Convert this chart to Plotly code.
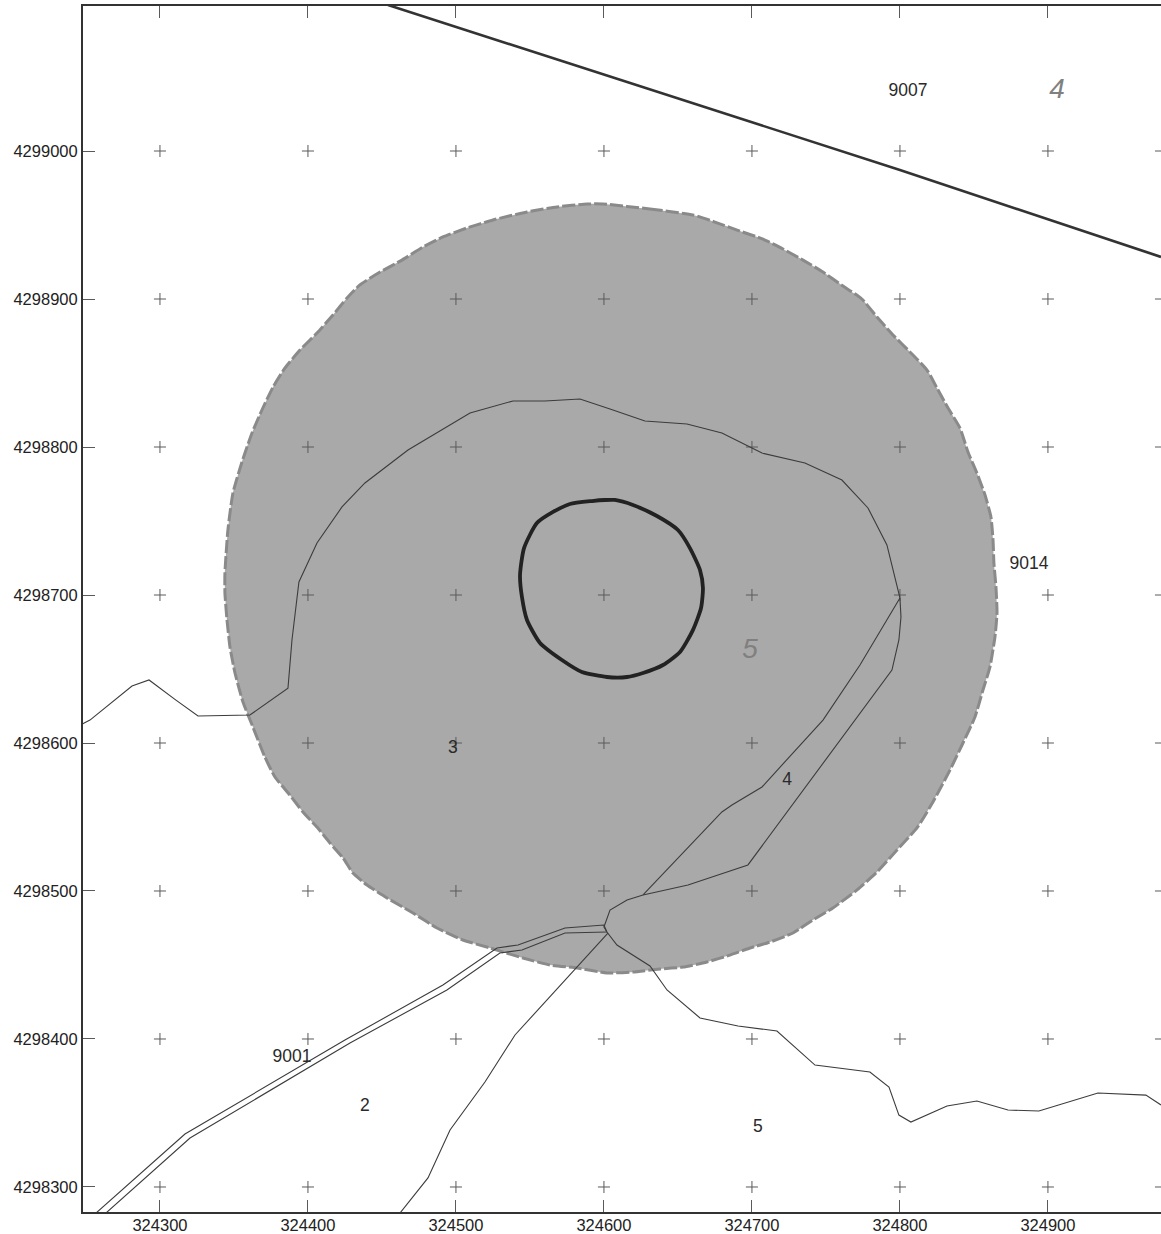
import plotly.graph_objects as go

# All map coordinates are metres, stored relative to these origins
EAST0 = 324000
NORTH0 = 4298000

x_ticks = [324300, 324400, 324500, 324600, 324700, 324800, 324900]
y_ticks = [4298300, 4298400, 4298500, 4298600, 4298700, 4298800, 4298900, 4299000]

disc_x = [599.3, 631.1, 660.1, 675.0, 691.9, 707.4, 721.0, 734.5, 748.0, 761.5, 774.3, 784.5, 795.3, 806.8, 818.3,
          825.0, 832.5, 840.6, 846.0, 852.0, 857.5, 861.5, 862.9, 863.5, 864.9, 865.6, 864.2, 860.8, 856.1, 850.7,
          842.6, 833.8, 822.3, 811.5, 798.0, 784.5, 771.0, 754.7, 741.2, 727.7, 712.2, 698.7, 685.1, 669.6, 653.4,
          637.9, 619.6, 602.0, 581.8, 563.5, 545.3, 523.0, 504.7, 487.2, 471.0, 453.4, 439.9, 430.4, 423.7, 414.9,
          406.1, 396.6, 387.8, 377.7, 370.9, 362.8, 356.1, 350.7, 347.3, 345.3, 343.9, 343.9, 345.9, 349.3, 355.4,
          362.2, 368.9, 376.4, 384.5, 394.6, 406.1, 416.9, 426.4, 435.1, 448.7, 463.5, 477.7, 491.2, 507.4, 525.0,
          548.0, 568.3, 588.5, 599.3]
disc_y = [964.2, 960.8, 956.8, 952.0, 945.9, 940.5, 933.8, 926.3, 918.2, 908.8, 900.0, 887.8, 875.7, 864.2, 852.0,
          839.9, 826.3, 812.8, 796.6, 782.4, 767.6, 752.7, 737.2, 721.6, 705.4, 687.8, 671.6, 651.3, 635.8, 617.6,
          600.0, 581.7, 560.1, 542.6, 527.7, 512.8, 500.7, 488.5, 480.4, 471.6, 465.5, 461.5, 456.7, 452.0, 448.6,
          447.3, 445.3, 444.6, 448.0, 450.0, 454.7, 461.5, 466.9, 475.0, 485.1, 495.3, 504.0, 512.1, 522.3, 532.4,
          543.2, 553.4, 564.8, 577.0, 590.5, 610.8, 627.7, 647.3, 664.9, 683.1, 701.3, 714.9, 743.9, 768.9, 789.9,
          809.5, 825.0, 840.5, 853.4, 865.5, 877.0, 889.2, 900.7, 909.5, 918.2, 926.3, 935.1, 941.9, 948.0, 953.4,
          958.8, 962.2, 964.2, 964.2]

ring_x = [600.7, 607.4, 619.6, 635.8, 650.0, 658.1, 664.9, 666.9, 665.6, 660.1, 651.4, 639.9, 626.4, 615.6, 602.0,
          585.1, 571.6, 556.8, 548.0, 544.6, 543.3, 546.0, 554.7, 565.6, 577.0, 591.9, 600.7]
ring_y = [764.2, 764.2, 760.8, 753.4, 743.9, 731.7, 716.9, 704.7, 691.2, 676.3, 661.5, 652.7, 647.3, 644.6, 644.6,
          648.0, 656.1, 667.6, 683.1, 698.6, 713.5, 731.7, 748.6, 756.1, 761.5, 763.5, 764.2]

stream_x = [247.3, 252.7, 281.1, 292.6, 310.8, 325.7, 360.8, 386.5, 389.2, 393.9, 406.1, 423.0, 438.5, 467.6, 509.5,
            538.5, 560.1, 583.8, 604.1, 627.7, 656.1, 679.7, 706.8, 735.8, 760.8, 778.4, 791.2, 800.0]
stream_y = [612.8, 615.5, 638.5, 642.6, 629.0, 618.2, 618.9, 637.1, 669.6, 708.8, 735.1, 759.5, 775.7, 798.0, 823.0,
            831.1, 831.1, 832.4, 825.7, 817.6, 815.5, 809.5, 795.9, 789.2, 777.7, 758.8, 733.8, 698.0]

inner_x = [800.0, 773.0, 748.0, 706.8, 686.5, 679.7, 626.4]
inner_y = [698.0, 652.7, 615.5, 570.3, 558.1, 553.4, 497.3]

outer_x = [800.0, 800.7, 799.3, 794.6, 697.3, 656.8, 626.4, 615.6, 604.1, 600.0, 602.0, 608.8, 631.1, 642.6, 664.9,
           690.6, 716.9, 742.6, 779.7, 792.6, 799.3, 807.4, 831.8, 852.0, 873.0, 893.9, 933.8, 966.2, 976.4]
outer_y = [698.0, 685.1, 669.6, 649.3, 517.6, 504.0, 497.3, 493.9, 487.1, 475.7, 472.3, 463.5, 449.3, 433.1, 414.2,
           408.8, 405.4, 382.4, 377.7, 367.5, 348.6, 343.9, 354.7, 358.1, 352.0, 351.3, 363.5, 362.1, 355.4]

road_upper_x = [256.8, 316.9, 425.0, 491.2, 527.7, 541.9, 573.7, 600.0, 602.0]
road_upper_y = [282.4, 335.8, 399.3, 436.5, 461.5, 463.5, 475.0, 477.0, 472.3]
road_lower_x = [263.5, 320.3, 428.4, 493.9, 529.7, 544.6, 573.7, 602.0]
road_lower_y = [282.4, 333.1, 397.3, 433.1, 458.1, 460.1, 471.6, 472.3]

south_x = [602.7, 561.5, 539.9, 519.6, 496.0, 481.1, 462.2]
south_y = [471.6, 426.3, 402.7, 370.9, 338.5, 306.1, 282.4]

border_x = [454.1, 800.0, 976.4]
border_y = [1098.65, 987.2, 928.4]

label_text = ["9007", "9014", "3", "4", "9001", "2", "5"]
label_x = [805.4, 887.2, 498.0, 723.7, 389.2, 438.5, 704.0]
label_y = [1040.4, 720.8, 596.5, 574.9, 387.7, 354.6, 340.4]
zone_text = ["4", "5"]
zone_x = [906.1, 698.7]
zone_y = [1040.6, 662.2]

X_RANGE = [324248.0, 324976.4]
Y_RANGE = [4298283.1, 4299097.98]


def ex(v):
    return [EAST0 + a for a in v]


def ny(v):
    return [NORTH0 + a for a in v]


fig = go.Figure()

# grey disc with a dashed rim
fig.add_trace(go.Scatter(x=ex(disc_x), y=ny(disc_y), mode="lines", fill="toself", fillcolor="#a9a9a9",
                         line=dict(color="#a9a9a9", width=0, shape="spline", smoothing=0.5)))
fig.add_trace(go.Scatter(x=ex(disc_x), y=ny(disc_y), mode="lines",
                         line=dict(color="#8a8a8a", width=3, dash="13px,3px", shape="spline", smoothing=0.5)))

# grid crosses
cross_x = [a for a in x_ticks for _ in y_ticks]
cross_y = [b for _ in x_ticks for b in y_ticks]
fig.add_trace(go.Scatter(x=cross_x, y=cross_y, mode="markers",
                         marker=dict(symbol="cross-thin", size=8.6, line=dict(color="#5a5a5a", width=1))))
# right-hand ticks, half cut off by the edge of the picture
fig.add_trace(go.Scatter(x=[X_RANGE[1]] * len(y_ticks), y=y_ticks, mode="markers",
                         marker=dict(symbol="line-ew", size=8.6, line=dict(color="#5a5a5a", width=1))))

thin = dict(color="#3c3c3c", width=1.1)
for xs, ys in [(stream_x, stream_y), (inner_x, inner_y), (outer_x, outer_y),
               (road_upper_x, road_upper_y), (road_lower_x, road_lower_y), (south_x, south_y)]:
    fig.add_trace(go.Scatter(x=ex(xs), y=ny(ys), mode="lines", line=thin))

fig.add_trace(go.Scatter(x=ex(ring_x), y=ny(ring_y), mode="lines",
                         line=dict(color="#222222", width=3.8, shape="spline", smoothing=0.6)))
fig.add_trace(go.Scatter(x=ex(border_x), y=ny(border_y), mode="lines", line=dict(color="#333333", width=2.6)))

fig.add_trace(go.Scatter(x=ex(label_x), y=ny(label_y), mode="text", text=label_text,
                         textposition="middle center",
                         textfont=dict(family="Liberation Sans", size=17.5, color="#2a2a2a")))
fig.add_trace(go.Scatter(x=ex(zone_x), y=ny(zone_y), mode="text", text=zone_text,
                         textposition="middle center",
                         textfont=dict(family="Liberation Sans", size=28, color="#808080", style="italic")))

axis_common = dict(showgrid=False, zeroline=False, ticks="inside", ticklen=12, tickwidth=1, tickcolor="#5a5a5a",
                   showline=True, linecolor="#333333", linewidth=2,
                   tickfont=dict(family="Liberation Sans", size=16.5, color="#222222"))

fig.update_layout(
    width=1161, height=1234,
    margin=dict(l=83, r=0, t=6, b=22, autoexpand=False),
    paper_bgcolor="white", plot_bgcolor="white", showlegend=False,
    xaxis=dict(range=X_RANGE, tickvals=x_ticks, ticktext=[str(v) for v in x_ticks], mirror="ticks",
               ticklabelstandoff=-3, **axis_common),
    yaxis=dict(range=Y_RANGE, tickvals=y_ticks, ticktext=[str(v) for v in y_ticks], mirror=False, **axis_common),
)

fig.write_html("out.html", config={"displayModeBar": False},
               post_script="document.body.style.margin='0';document.body.style.overflow='hidden';")
